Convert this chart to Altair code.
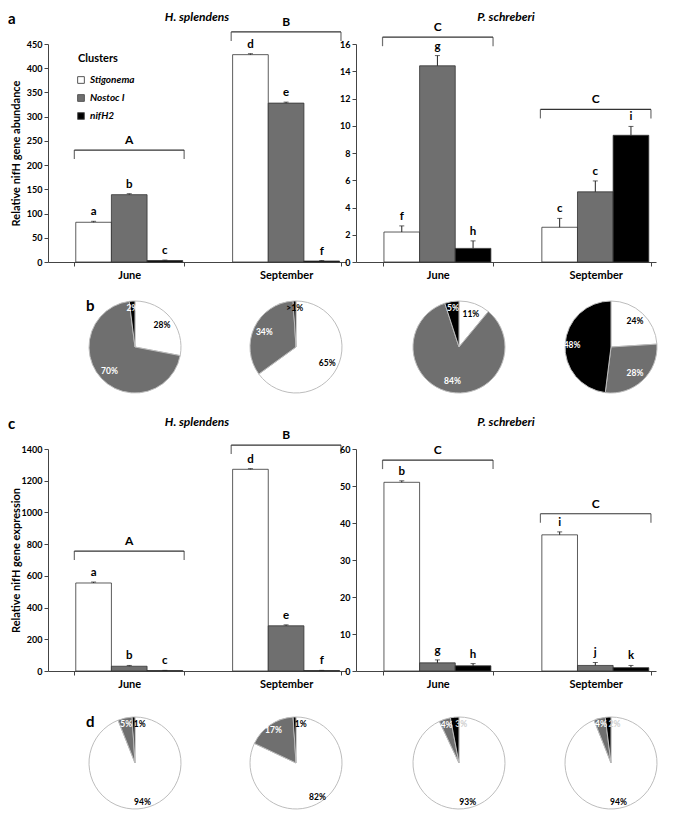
import altair as alt
import pandas as pd

months = ["June", "September"]
clusters = ["Stigonema", "Nostoc I", "nifH2"]
fills = ["#ffffff", "#6f6f6f", "#000000"]

# (a) relative nifH gene abundance: June S, N, n, September S, N, n
hs_abund = [82, 139, 3, 428, 328, 2]
hs_abund_err = [2, 2, 1, 2, 2, 1]
hs_abund_sig = ["a", "b", "c", "d", "e", "f"]
hs_abund_brk = [231, 475]
hs_abund_brk_lab = ["A", "B"]

ps_abund = [2.2, 14.4, 1.0, 2.55, 5.15, 9.3]
ps_abund_err = [0.45, 0.75, 0.55, 0.65, 0.8, 0.65]
ps_abund_sig = ["f", "g", "h", "c", "c", "i"]
ps_abund_brk = [16.5, 11.2]
ps_abund_brk_lab = ["C", "C"]

# (c) relative nifH gene expression
hs_expr = [555, 30, 3, 1272, 285, 3]
hs_expr_err = [6, 5, 1, 4, 6, 1]
hs_expr_sig = ["a", "b", "c", "d", "e", "f"]
hs_expr_brk = [756, 1425]
hs_expr_brk_lab = ["A", "B"]

ps_expr = [51.0, 2.2, 1.4, 36.8, 1.5, 0.9]
ps_expr_err = [0.4, 0.8, 0.6, 0.8, 0.8, 0.6]
ps_expr_sig = ["b", "g", "h", "i", "j", "k"]
ps_expr_brk = [57, 42.5]
ps_expr_brk_lab = ["C", "C"]

# (b), (d) pie shares (Stigonema, Nostoc I, nifH2), %
b_hs_june = [28, 70, 2]
b_hs_june_lab = ["28%", "70%", "2%"]
b_hs_sept = [65, 34, 1]
b_hs_sept_lab = ["65%", "34%", ">1%"]
b_ps_june = [11, 84, 5]
b_ps_june_lab = ["11%", "84%", "5%"]
b_ps_sept = [24, 28, 48]
b_ps_sept_lab = ["24%", "28%", "48%"]

d_hs_june = [94, 5, 1]
d_hs_june_lab = ["94%", "5%", "1%"]
d_hs_sept = [82, 17, 1]
d_hs_sept_lab = ["82%", "17%", "1%"]
d_ps_june = [93, 4, 3]
d_ps_june_lab = ["93%", "4%", "3%"]
d_ps_sept = [94, 4, 2]
d_ps_sept_lab = ["94%", "4%", "2%"]

FONT = "Lato"
color_scale = alt.Scale(domain=clusters, range=fills)


def text_at(txt, x, y, size, style="normal", align="left", baseline="top"):
    return alt.Chart(pd.DataFrame({"t": [txt]})).mark_text(
        align=align, baseline=baseline, fontSize=size, fontWeight="bold", fontStyle=style,
        font=FONT, color="black"
    ).encode(text="t:N", x=alt.value(x), y=alt.value(y))


def legend_layers(x0, y0):
    out = [text_at("Clusters", x0, y0, 11, baseline="middle")]
    for i, c in enumerate(clusters):
        d = pd.DataFrame({"cluster": [c]})
        out.append(alt.Chart(d).mark_square(size=45, stroke="#555", strokeWidth=1, opacity=1).encode(
            x=alt.value(x0 + 3), y=alt.value(y0 + 21 + 18 * i),
            color=alt.Color("cluster:N", scale=color_scale, legend=None)))
        out.append(alt.Chart(d).mark_text(align="left", baseline="middle", fontSize=10,
                                          fontWeight="bold", fontStyle="italic", font=FONT,
                                          color="black").encode(
            x=alt.value(x0 + 12), y=alt.value(y0 + 21 + 18 * i), text="cluster:N"))
    return out


def bar_panel(vals, errs, sig, brk, brk_lab, title, ymax, ystep, width, height,
              ytitle=None, legend=False, letter=None):
    rows = []
    for i, m in enumerate(months):
        for j, c in enumerate(clusters):
            k = 3 * i + j
            rows.append({"month": m, "cluster": c, "value": vals[k],
                         "top": vals[k] + errs[k], "sig": sig[k]})
    df = pd.DataFrame(rows)
    bdf = pd.DataFrame({"month": months, "b": brk, "lab": brk_lab})

    xax = alt.Axis(title=None, labelAngle=0, tickBand="extent", labelFontSize=11,
                   labelPadding=3, tickSize=4)
    xs = alt.Scale(domain=months, paddingInner=0.3, paddingOuter=0.1, align=0.84)
    x = alt.X("month:N", scale=xs, sort=months, axis=xax)
    xo = alt.XOffset("cluster:N", sort=clusters,
                     scale=alt.Scale(domain=clusters, paddingInner=0, paddingOuter=0.04))
    yax = alt.Axis(values=list(range(0, ymax + 1, ystep)), title=ytitle, format="d",
                   labelOverlap=False, minExtent=24, maxExtent=24)
    ys = alt.Scale(domain=[0, ymax], nice=False)

    def Y(f):
        return alt.Y(f, scale=ys, axis=yax)

    color = alt.Color("cluster:N", scale=color_scale, sort=clusters, legend=None)

    bars = alt.Chart(df).mark_bar(stroke="#333", strokeWidth=0.8).encode(
        x=x, xOffset=xo, y=Y("value:Q"), color=color)
    err = alt.Chart(df).mark_rule(color="#222", strokeWidth=1).encode(
        x=x, xOffset=xo, y=Y("value:Q"), y2="top:Q")
    caps = alt.Chart(df).mark_tick(orient="horizontal", size=5, thickness=1, color="#222").encode(
        x=x, xOffset=xo, y=Y("top:Q"))
    sigt = alt.Chart(df).mark_text(baseline="bottom", dy=-4, fontSize=11.5, fontWeight="bold",
                                   font=FONT, color="black").encode(
        x=x, xOffset=xo, y=Y("top:Q"), text="sig:N")
    bh = alt.Chart(bdf).mark_rule(color="#333", strokeWidth=1.2).encode(
        x=alt.X("month:N", bandPosition=0, scale=xs, sort=months, axis=xax),
        x2=alt.X2("month:N", bandPosition=1), y=Y("b:Q"))
    bl = alt.Chart(bdf).mark_tick(orient="vertical", size=9, thickness=1.2, color="#333",
                                  yOffset=4.5).encode(
        x=alt.X("month:N", bandPosition=0, scale=xs, sort=months, axis=xax), y=Y("b:Q"))
    br = alt.Chart(bdf).mark_tick(orient="vertical", size=9, thickness=1.2, color="#333",
                                  yOffset=4.5).encode(
        x=alt.X("month:N", bandPosition=1, scale=xs, sort=months, axis=xax), y=Y("b:Q"))
    bt = alt.Chart(bdf).mark_text(baseline="bottom", dy=-3, fontSize=12, fontWeight="bold",
                                  font=FONT, color="black").encode(
        x=x, y=Y("b:Q"), text="lab:N")
    ttl = text_at(title, width / 2, -27, 12, style="italic", align="center", baseline="middle")
    layers = [bars, err, caps, sigt, bh, bl, br, bt, ttl]
    if legend:
        layers += legend_layers(30, 15)
    if letter:
        layers.append(text_at(letter, -40, -32, 15))
    return alt.layer(*layers).properties(width=width, height=height)


def pie(vals, labs, lab_colors, small_align, big_r, letter=None):
    df = pd.DataFrame({"cluster": clusters, "pct": vals, "lab": labs, "ord": [0, 1, 2]})
    base = alt.Chart(df).encode(theta=alt.Theta("pct:Q", stack=True),
                                order=alt.Order("ord:Q", sort="ascending"))
    arcs = base.mark_arc(radius=46, stroke="#bdbdbd", strokeWidth=1).encode(
        fill=alt.Fill("cluster:N", scale=alt.Scale(domain=clusters, range=fills), legend=None))
    lc = alt.Color("cluster:N", scale=alt.Scale(domain=clusters, range=lab_colors), legend=None)
    big = base.transform_calculate(t="datum.cluster == 'nifH2' ? '' : datum.lab").mark_text(
        radius=big_r, fontSize=8.5, fontWeight="bold", font=FONT).encode(text="t:N", color=lc)
    small = base.transform_calculate(t="datum.cluster == 'nifH2' ? datum.lab : ''").mark_text(
        radius=39, fontSize=8.5, fontWeight="bold", font=FONT, align=small_align).encode(
        text="t:N", color=lc)
    layers = [arcs, big, small]
    if letter:
        layers.append(text_at(letter, -3, 0, 15))
    return alt.layer(*layers).properties(width=92, height=96)


def H(*charts, spacing):
    return alt.hconcat(*charts, spacing=spacing).resolve_scale(
        x="independent", y="independent", color="independent", fill="independent"
    ).resolve_legend(color="independent", fill="independent")


def V(*charts, spacing):
    return alt.vconcat(*charts, spacing=spacing).resolve_scale(
        x="independent", y="independent", color="independent", fill="independent"
    ).resolve_legend(color="independent", fill="independent")


def spacer(w, h):
    return alt.Chart(pd.DataFrame({"t": [""]})).mark_text().encode(
        text="t:N", x=alt.value(0), y=alt.value(0)).properties(width=w, height=h)


a_left = bar_panel(hs_abund, hs_abund_err, hs_abund_sig, hs_abund_brk, hs_abund_brk_lab,
                   "H. splendens", 450, 50, 298, 218,
                   ytitle="Relative nifH gene abundance", legend=True, letter="a")
a_right = bar_panel(ps_abund, ps_abund_err, ps_abund_sig, ps_abund_brk, ps_abund_brk_lab,
                    "P. schreberi", 16, 2, 300, 218)
c_left = bar_panel(hs_expr, hs_expr_err, hs_expr_sig, hs_expr_brk, hs_expr_brk_lab,
                   "H. splendens", 1400, 200, 298, 222,
                   ytitle="Relative nifH gene expression", letter="c")
c_right = bar_panel(ps_expr, ps_expr_err, ps_expr_sig, ps_expr_brk, ps_expr_brk_lab,
                    "P. schreberi", 60, 10, 300, 222)

lab_b = ["black", "white", "white"]
lab_b2 = ["black", "white", "black"]
lab_d12 = ["black", "white", "black"]
lab_d34 = ["black", "white", "#cfcfcf"]

row_a = H(a_left, a_right, spacing=-14)
row_b = H(spacer(28, 96),
          H(H(pie(b_hs_june, b_hs_june_lab, lab_b, "center", 35, letter="b"),
              pie(b_hs_sept, b_hs_sept_lab, lab_b2, "center", 35), spacing=65),
            H(pie(b_ps_june, b_ps_june_lab, lab_b, "center", 35),
              pie(b_ps_sept, b_ps_sept_lab, lab_b, "center", 35), spacing=56), spacing=67),
          spacing=10)
row_c = H(c_left, c_right, spacing=-14)
row_d = H(spacer(28, 96),
          H(H(pie(d_hs_june, d_hs_june_lab, lab_d12, "left", 40, letter="d"),
              pie(d_hs_sept, d_hs_sept_lab, lab_d12, "left", 40), spacing=65),
            H(pie(d_ps_june, d_ps_june_lab, lab_d34, "left", 40),
              pie(d_ps_sept, d_ps_sept_lab, lab_d34, "left", 40), spacing=56), spacing=67),
          spacing=10)

chart = V(V(row_a, row_b, spacing=13), V(row_c, row_d, spacing=20), spacing=21).properties(
    padding={"top": 3, "left": 0, "right": 0, "bottom": 0}
).configure(font=FONT).configure_view(stroke=None).configure_axis(
    domainColor="#444", tickColor="#444", labelColor="black", labelFontWeight="bold",
    labelFont=FONT, titleFont=FONT, grid=False
).configure_axisY(
    labelFontSize=9, tickSize=4, labelPadding=2, titleFontSize=11, titleFontWeight="bold",
    titleColor="black", titlePadding=3
)

chart.save("out.html", embed_options={"renderer": "svg", "actions": False})
